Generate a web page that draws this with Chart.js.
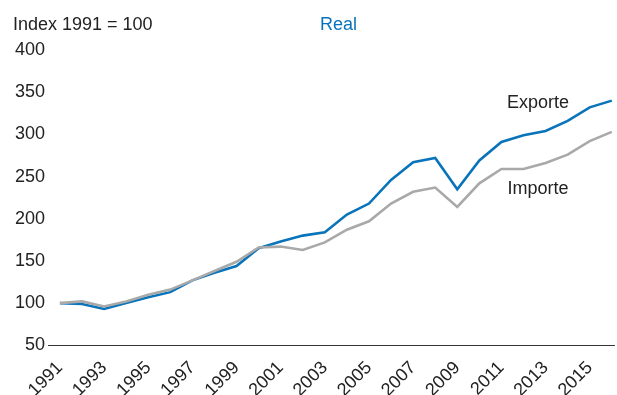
<!DOCTYPE html>
<html>
<head>
<meta charset="utf-8">
<script src="https://cdn.jsdelivr.net/npm/chart.js@4/dist/chart.umd.min.js"></script>
<style>
  html, body { margin: 0; padding: 0; background: #fff; }
  #wrap { width: 617px; height: 395px; position: relative; }
</style>
</head>
<body>
<div id="wrap"><canvas id="tradeChart"></canvas></div>
<script>
// Reale Exporte und Importe, Index 1991 = 100
const years = [1991, 1992, 1993, 1994, 1995, 1996, 1997, 1998, 1999, 2000,
               2001, 2002, 2003, 2004, 2005, 2006, 2007, 2008, 2009, 2010,
               2011, 2012, 2013, 2014, 2015, 2016];
const exporte = [100, 99, 93, 100, 107, 113, 127, 136, 144, 165,
                 173, 180, 184, 205, 218, 246, 267, 272, 235, 269,
                 291, 299, 304, 316, 332, 340];
const importe = [100, 102, 96, 102, 110, 116, 127, 138, 149, 166,
                 167, 163, 172, 187, 197, 218, 232, 237, 214, 242,
                 259, 259, 266, 276, 292, 303];
const tickYears = [1991, 1993, 1995, 1997, 1999, 2001, 2003, 2005, 2007, 2009, 2011, 2013, 2015];
const yTicks = [50, 100, 150, 200, 250, 300, 350, 400];

const FONT = '"Liberation Sans", Arial, Helvetica, sans-serif';
const TEXT = '#222222';
const BLUE = '#0a74bb';
const GREY = '#a9a9a9';

function toPoints(values) {
    return years.map((y, i) => ({ x: y, y: values[i] }));
}

// Kopfzeile, Grundlinie bei 50 und Reihenbeschriftungen
const labelPlugin = {
    id: 'labelPlugin',
    afterDraw(chart) {
        const ctx = chart.ctx;
        const xs = chart.scales.x, ys = chart.scales.y;
        const area = chart.chartArea;
        ctx.save();

        const base = Math.round(ys.getPixelForValue(yTicks[0])) + 0.5;
        ctx.strokeStyle = '#333333';
        ctx.lineWidth = 1.2;
        ctx.beginPath();
        ctx.moveTo(area.left, base);
        ctx.lineTo(area.right, base);
        ctx.stroke();

        ctx.font = '18px ' + FONT;
        ctx.textBaseline = 'alphabetic';
        ctx.textAlign = 'left';
        ctx.fillStyle = TEXT;
        ctx.fillText('Index 1991 = 100', 13, 30);
        ctx.fillStyle = BLUE;
        ctx.fillText('Real', 320, 30);

        ctx.textAlign = 'center';
        ctx.textBaseline = 'middle';
        ctx.fillStyle = TEXT;
        ctx.fillText('Exporte', xs.getPixelForValue(2012.66), ys.getPixelForValue(337));
        ctx.fillText('Importe', xs.getPixelForValue(2012.66), ys.getPixelForValue(235));
        ctx.restore();
    }
};

const ctx = document.getElementById('tradeChart').getContext('2d');
const tradeChart = new Chart(ctx, {
    type: 'line',
    data: {
        datasets: [{
            label: 'Exporte',
            data: toPoints(exporte),
            borderColor: BLUE,
            borderWidth: 2.6,
            pointRadius: 0,
            tension: 0,
            order: 2
        }, {
            label: 'Importe',
            data: toPoints(importe),
            borderColor: GREY,
            borderWidth: 2.6,
            pointRadius: 0,
            tension: 0,
            order: 1
        }]
    },
    options: {
        responsive: true,
        maintainAspectRatio: false,
        animation: false,
        layout: {
            padding: { top: 50, left: 0, right: 0, bottom: 0 }
        },
        plugins: {
            legend: { display: false },
            tooltip: { enabled: false }
        },
        scales: {
            x: {
                type: 'linear',
                min: 1990.46,
                max: 2016.14,
                grid: { display: false, drawTicks: false },
                border: { display: false },
                afterBuildTicks: function(scale) {
                    scale.ticks = tickYears.map(v => ({ value: v }));
                },
                afterFit: function(scale) {
                    scale.height = 49.7;
                },
                ticks: {
                    autoSkip: false,
                    maxRotation: 45,
                    minRotation: 45,
                    padding: 12,
                    color: TEXT,
                    font: { family: FONT, size: 18 },
                    callback: function(value) {
                        return String(value);
                    }
                }
            },
            y: {
                min: 50,
                max: 400,
                grid: { display: false, drawTicks: false },
                border: { display: false },
                afterBuildTicks: function(scale) {
                    scale.ticks = yTicks.map(v => ({ value: v }));
                },
                afterFit: function(scale) {
                    scale.width = 48;
                },
                ticks: {
                    padding: 3,
                    color: TEXT,
                    font: { family: FONT, size: 18 },
                    callback: function(value) {
                        return String(value);
                    }
                }
            }
        }
    },
    plugins: [labelPlugin]
});
</script>
</body>
</html>
